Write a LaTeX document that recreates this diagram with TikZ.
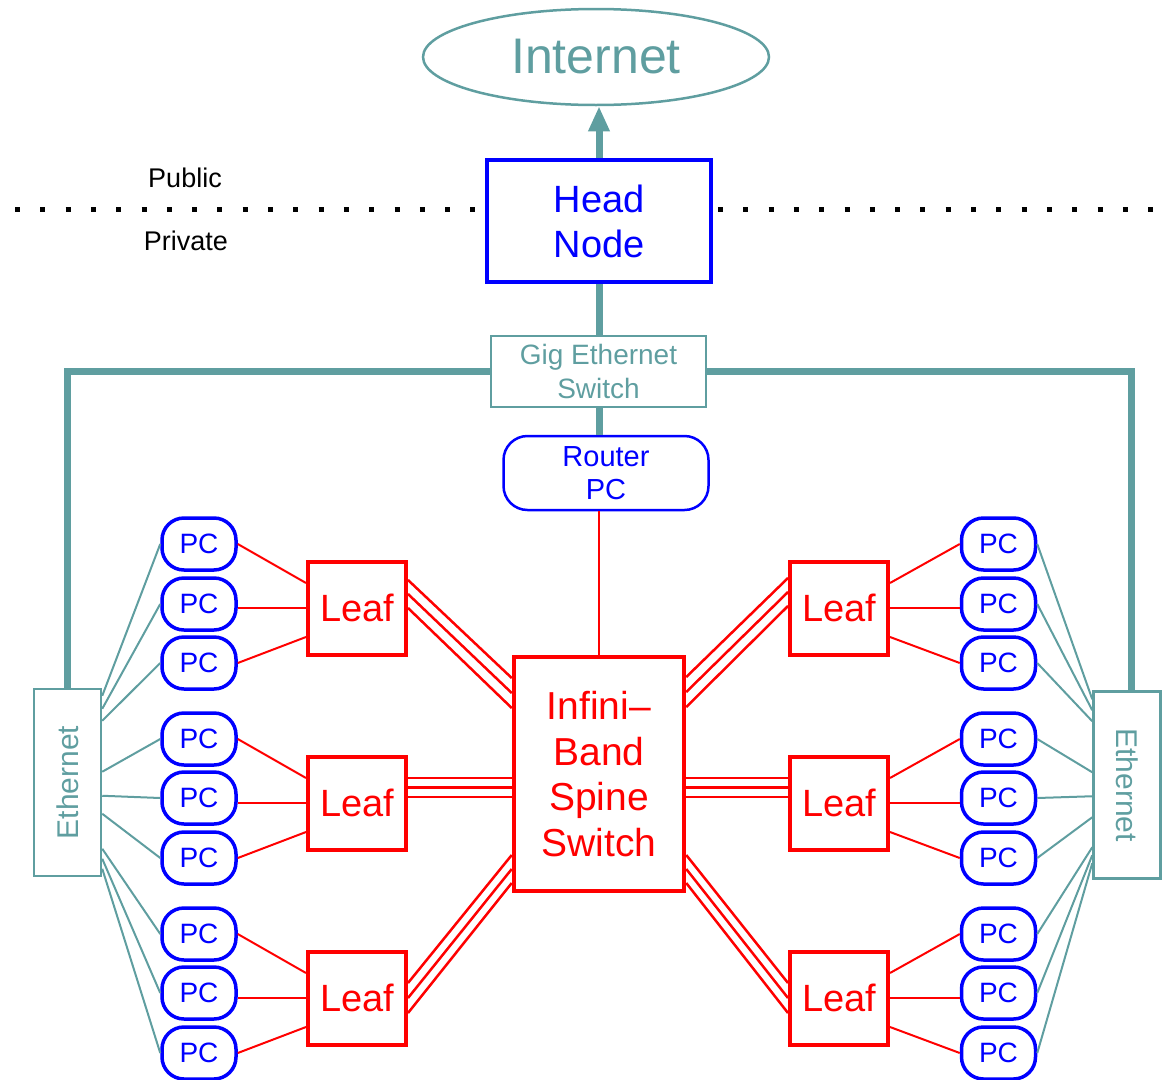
\documentclass[tikz,border=0pt]{standalone}
\usepackage{fontspec}
\usepackage{graphicx}
\setmainfont{Liberation Sans}
\usetikzlibrary{shapes.geometric,arrows.meta,calc}
\definecolor{cadet}{HTML}{5F9EA0}

\tikzset{
  pcbox/.style={draw=blue, line width=3.5pt, rounded corners=22pt,
    minimum width=74pt, minimum height=52pt, inner sep=0pt, text=blue,
    font=\fontsize{28}{33}\selectfont},
  leafbox/.style={draw=red, line width=4pt, minimum width=98pt,
    minimum height=93pt, inner sep=0pt, text=red,
    font=\fontsize{38}{45}\selectfont},
  etherbox/.style={draw=cadet, line width=2.5pt, minimum width=67pt,
    minimum height=187pt, inner sep=0pt, text=cadet,
    font=\fontsize{30}{36}\selectfont},
  trunk/.style={draw=cadet, line width=7pt},
  ethlink/.style={draw=cadet, line width=2pt},
  iblink/.style={draw=red, line width=2pt},
  ibtriple/.style={draw=red, line width=2.5pt},
  dotline/.style={draw=black, line width=5pt, dash pattern=on 5pt off 20.3pt},
  zonelabel/.style={text=black, font=\fontsize{27}{32}\selectfont}
}

\begin{document}
\begin{tikzpicture}[x=1pt, y=-1pt]
\useasboundingbox (0,0) rectangle (1167,1079);

% Top part: internet, head node, public/private boundary
\node[ellipse, draw=cadet, line width=2.5pt, minimum width=346pt,
      minimum height=96pt, inner sep=0pt, text=cadet,
      font=\fontsize{50}{60}\selectfont] (inet) at (596,57) {Internet};
\node[draw=blue, line width=4pt, minimum width=224pt, minimum height=122pt,
      text=blue, align=center, font=\fontsize{38}{45}\selectfont]
      (head) at (599,221) {Head\\Node};

\node[zonelabel] (public) at (185,178) {Public};
\node[zonelabel] (private) at (186,241) {Private};

\coordinate (dlA) at (15,209);
\coordinate (dlB) at (718,209);
\coordinate (dlC) at (1162,209);
\draw[dotline] (dlA) -- (head.west |- dlA);
\draw[dotline] (dlB) -- (dlC);

% Gigabit switch and router
\node[draw=cadet, line width=2.5pt, minimum width=215pt, minimum height=71pt,
      inner sep=0pt, text=cadet, align=center,
      font=\fontsize{28}{34}\selectfont]
      (gig) at (598.5,371.5) {Gig Ethernet\\Switch};
\node[draw=blue, line width=2.5pt, rounded corners=24pt, minimum width=205pt,
      minimum height=74pt, inner sep=0pt, text=blue, align=center,
      font=\fontsize{29}{33}\selectfont]
      (router) at (606,473) {Router\\PC};

% InfiniBand spine
\node[draw=red, line width=4.5pt, minimum width=170pt, minimum height=234pt,
      inner sep=0pt, text=red, align=center,
      font=\fontsize{39}{45.5}\selectfont]
      (spine) at (599,774) {Infini–\\Band\\Spine\\Switch};

% Ethernet edge switches
\node[etherbox] (ethL) at (67.5,782.5) {\rotatebox{90}{Ethernet}};
\node[etherbox] (ethR) at (1127,785) {\rotatebox{-90}{Ethernet}};

% Leaf switches
\foreach \k/\y in {1/608,2/803,3/998} {
  \node[leafbox] (l\k) at (357,\y) {Leaf};
  \node[leafbox] (r\k) at (839,\y) {Leaf};
}

% Compute nodes
\foreach \i/\y in {1/544,2/604,3/663,4/739,5/798,6/858,7/934,8/993,9/1053} {
  \node[pcbox] (pl\i) at (199,\y) {PC};
  \node[pcbox] (pr\i) at (998.5,\y) {PC};
}

% Ethernet backbone
\draw[trunk, -{Triangle[width=20pt,length=25pt]}] (head.north) -- (head.north |- inet.south);
\draw[trunk] (head.south) -- (head.south |- gig.north);
\draw[trunk] (head.south |- gig.south) -- (head.south |- router.north);
\draw[trunk] (gig.west) -| (ethL.north);
\coordinate (ethRtop) at ($(ethR.north)+(4,0)$);
\draw[trunk] (gig.east) -| (ethRtop);

% Router to spine
\draw[iblink] (spine.north |- router.south) -- (spine.north);

% PCs to leaves
\foreach \k/\a/\b/\c in {1/1/2/3,2/4/5/6,3/7/8/9} {
  \draw[iblink] (pl\a.east) -- ($(l\k.west)+(0,-25)$);
  \draw[iblink] (pl\b.east |- l\k.west) -- (l\k.west);
  \draw[iblink] (pl\c.east) -- ($(l\k.west)+(0,29)$);
  \draw[iblink] (pr\a.west) -- ($(r\k.east)+(0,-25)$);
  \draw[iblink] (pr\b.west |- r\k.east) -- (r\k.east);
  \draw[iblink] (pr\c.west) -- ($(r\k.east)+(0,29)$);
}

% PCs to ethernet switches
\foreach \i/\d in {1/8,2/21,3/33,4/84,5/108,6/126,7/161,8/171,9/181} {
  \draw[ethlink] (pl\i.west) -- ($(ethL.north east)+(0,\d)$);
}
\foreach \i/\d in {1/9,2/20,3/31,4/82,5/106,6/127,7/157,8/165,9/173} {
  \draw[ethlink] (pr\i.east) -- ($(ethR.north west)+(0,\d)$);
}

% Leaf-to-spine triple links
\foreach \s in {0,1,2} {
  \draw[ibtriple] ($(l1.east)+(0,-28+14*\s)$) -- ($(spine.west)+(0,-96+15*\s)$);
  \draw[ibtriple] ($(l2.east)+(0,-25+9.5*\s)$) -- ($(spine.west)+(0,4+9.5*\s)$);
  \draw[ibtriple] ($(l3.east)+(0,-15+15*\s)$) -- ($(spine.west)+(0,81+14*\s)$);
  \draw[ibtriple] ($(r1.west)+(0,-30+14*\s)$) -- ($(spine.east)+(0,-97+15*\s)$);
  \draw[ibtriple] ($(r2.west)+(0,-25+9.5*\s)$) -- ($(spine.east)+(0,4+9.5*\s)$);
  \draw[ibtriple] ($(r3.west)+(0,-15+15*\s)$) -- ($(spine.east)+(0,81+14*\s)$);
}
\end{tikzpicture}
\end{document}
